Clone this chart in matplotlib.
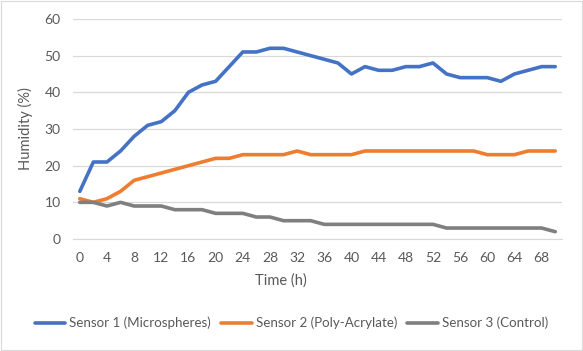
import numpy as np
import matplotlib
matplotlib.use("Agg")
import matplotlib.pyplot as plt

plt.rcParams['font.family'] = ['Lato', 'DejaVu Sans']

hours = list(range(0, 72, 2))
sensor1 = [13, 21, 21, 24, 28, 31, 32, 35, 40, 42, 43, 47, 51, 51, 52, 52, 51, 50,
           49, 48, 45, 47, 46, 46, 47, 47, 48, 45, 44, 44, 44, 43, 45, 46, 47, 47]
sensor2 = [11, 10, 11, 13, 16, 17, 18, 19, 20, 21, 22, 22, 23, 23, 23, 23, 24, 23,
           23, 23, 23, 24, 24, 24, 24, 24, 24, 24, 24, 24, 23, 23, 23, 24, 24, 24]
sensor3 = [10, 10, 9, 10, 9, 9, 9, 8, 8, 8, 7, 7, 7, 6, 6, 5, 5, 5,
           4, 4, 4, 4, 4, 4, 4, 4, 4, 3, 3, 3, 3, 3, 3, 3, 3, 2]
names = ['Sensor 1 (Microspheres)', 'Sensor 2 (Poly-Acrylate)', 'Sensor 3 (Control)']
colors = ['#4472C4', '#ED7D31', '#7F7F7F']
txt = '#595959'

fig = plt.figure(figsize=(5.83, 3.51), dpi=100)
ax = fig.add_axes([0.1252, 0.319, 0.8388, 0.627])

for ys, name, c in zip([sensor1, sensor2, sensor3], names, colors):
    ax.plot(hours, ys, color=c, lw=2.6, label=name, solid_capstyle='round',
            solid_joinstyle='round')

ax.set_xlim(-1, 71)
ax.set_ylim(0, 60)
ax.set_yticks(range(0, 61, 10))
ax.set_xticks(hours[::2])
ax.grid(axis='y', color='#D9D9D9', lw=0.9)
ax.set_axisbelow(True)
for s in ['top', 'right', 'left']:
    ax.spines[s].set_visible(False)
ax.spines['bottom'].set_color('#D9D9D9')
ax.tick_params(axis='both', length=0, labelsize=10, labelcolor=txt)
ax.tick_params(axis='y', pad=9)
ax.tick_params(axis='x', pad=9)
ax.set_ylabel('Humidity (%)', fontsize=10.5, color=txt, labelpad=8)
# Excel puts the axis title a little left of the plot centre
fig.text(281 / 583, 1 - 281 / 351, 'Time (h)', fontsize=10.5, color=txt,
         ha='center', va='center')

leg = fig.legend(loc='center', bbox_to_anchor=(0.5, 0.08), ncol=3, frameon=False,
                 fontsize=9.6, handlelength=2.3, handletextpad=0.3, columnspacing=0.75)
for t in leg.get_texts():
    t.set_color(txt)

fig.patches.append(plt.Rectangle((0.002, 0.002), 0.996, 0.996, transform=fig.transFigure,
                                 fill=False, edgecolor='#D9D9D9', lw=0.8))

fig.savefig('out.png', dpi=100)
